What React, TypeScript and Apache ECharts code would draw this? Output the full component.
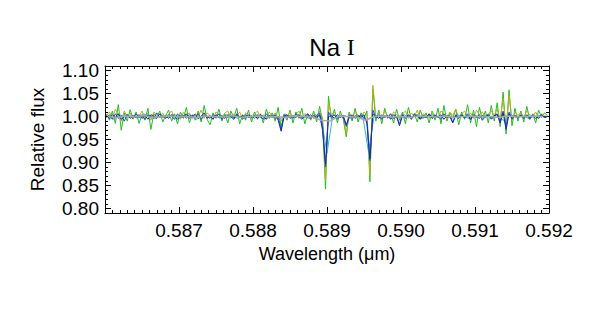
import React, { useEffect, useRef } from "react";
import * as echarts from "echarts";

// wavelength grid (µm) of the main spectra
const WAVE_START = 0.58602;
const WAVE_STEP = 0.00004;
// sparser grids of the smooth spectra
const CYAN_START = 0.58604;
const CYAN_STEP = 0.00008;
const GRAY_START = 0.58604;
const GRAY_STEP = 0.00012;

const greenFlux = [
  1.005, 0.992, 1.012, 0.985, 1.026, 0.970, 1.008, 0.990, 1.015, 0.995,
  1.010, 0.985, 1.004, 0.992, 1.018, 0.972, 1.006, 0.998, 1.012, 0.988,
  1.002, 1.014, 0.990, 1.006, 0.984, 1.010, 0.996, 1.020, 0.986, 1.004,
  0.992, 1.012, 0.988, 1.024, 0.994, 0.982, 1.008, 0.996, 1.016, 0.990,
  1.006, 0.986, 1.012, 0.998, 1.018, 0.984, 1.004, 0.992, 1.014, 0.988,
  1.010, 0.994, 1.006, 0.986, 1.016, 0.996, 1.008, 0.990, 1.020, 0.978,
  1.004, 0.992, 1.014, 0.986, 1.010, 0.996, 1.018, 0.984, 1.006, 0.992,
  1.012, 0.988, 1.022, 0.990, 0.842, 1.044, 0.992, 1.016, 0.986, 1.012,
  0.994, 0.956, 1.010, 0.990, 1.018, 0.988, 1.008, 0.996, 1.012, 0.858,
  1.060, 0.990, 1.014, 0.984, 1.018, 0.996, 1.006, 0.986, 1.016, 0.992,
  1.010, 0.984, 1.020, 0.994, 1.006, 0.988, 1.014, 0.996, 1.008, 0.986,
  1.012, 0.992, 1.018, 0.984, 1.024, 0.990, 1.008, 0.996, 1.016, 0.982,
  1.010, 0.994, 1.026, 0.986, 1.014, 0.978, 1.020, 0.992, 1.012, 0.986,
  1.024, 0.990, 1.030, 0.978, 1.053, 0.962, 1.058, 0.980, 1.018, 0.990,
  1.012, 0.988, 1.022, 0.994, 1.006, 0.986, 1.014, 0.998, 1.008, 1.002,
];

const oliveFlux = [
  1.002, 1.010, 0.996, 1.016, 1.004, 0.990, 1.012, 1.000, 1.008, 0.994,
  1.006, 1.000, 1.012, 0.996, 1.008, 0.992, 1.010, 1.002, 0.998, 1.008,
  0.996, 1.006, 1.012, 0.998, 1.004, 0.994, 1.010, 1.002, 1.008, 0.996,
  1.006, 1.000, 1.014, 0.996, 1.008, 1.002, 0.994, 1.010, 1.004, 0.998,
  1.008, 1.012, 0.996, 1.006, 1.000, 1.010, 0.994, 1.008, 1.002, 0.996,
  1.006, 1.012, 0.998, 1.004, 0.994, 1.010, 1.000, 1.008, 0.996, 0.990,
  1.006, 1.000, 1.010, 0.996, 1.004, 1.012, 0.998, 1.006, 1.002, 0.994,
  1.008, 1.000, 1.012, 0.998, 0.860, 1.030, 1.004, 1.010, 0.996, 1.006,
  1.000, 0.962, 1.008, 0.996, 1.012, 1.002, 0.998, 1.010, 1.004, 0.872,
  1.068, 1.000, 1.008, 0.994, 1.012, 1.002, 0.996, 1.010, 1.004, 0.998,
  1.006, 1.012, 0.996, 1.008, 1.000, 1.014, 0.994, 1.006, 1.002, 0.996,
  1.010, 1.004, 0.998, 1.012, 1.006, 0.994, 1.010, 1.002, 1.016, 0.998,
  1.006, 1.012, 1.000, 1.008, 0.996, 1.014, 1.004, 1.010, 0.998, 1.006,
  1.012, 1.002, 1.016, 0.994, 1.040, 0.976, 1.046, 0.992, 1.010, 1.002,
  1.008, 0.998, 1.012, 1.004, 1.000, 1.010, 0.996, 1.006, 1.002, 1.000,
];

const blueFlux = [
  0.998, 1.004, 0.994, 1.006, 0.996, 1.002, 0.990, 1.004, 1.000, 0.996,
  1.006, 0.998, 1.002, 0.994, 1.004, 1.000, 0.996, 1.008, 0.998, 1.002,
  0.996, 1.004, 1.000, 0.994, 1.006, 0.998, 1.002, 0.996, 1.004, 1.000,
  0.998, 1.006, 0.994, 1.002, 1.000, 0.996, 1.004, 0.998, 1.006, 0.994,
  1.002, 0.998, 1.004, 0.996, 1.002, 1.000, 0.994, 1.004, 0.998, 1.002,
  0.996, 1.004, 1.000, 0.994, 1.006, 0.998, 1.002, 0.996, 1.000, 0.972,
  1.004, 0.998, 1.002, 0.996, 1.006, 1.000, 0.994, 1.002, 0.998, 1.004,
  0.996, 1.002, 1.008, 0.980, 0.890, 1.010, 0.998, 1.004, 0.994, 1.002,
  0.998, 0.978, 1.004, 0.996, 1.002, 0.998, 1.004, 0.996, 0.990, 0.904,
  1.014, 0.998, 1.004, 0.994, 1.002, 0.998, 1.006, 0.996, 1.000, 0.984,
  1.004, 0.998, 1.002, 0.994, 1.006, 1.000, 0.996, 1.002, 0.998, 1.004,
  0.996, 1.002, 1.000, 0.994, 1.006, 0.998, 1.002, 0.988, 1.004, 0.998,
  1.002, 0.996, 1.006, 0.994, 1.002, 0.998, 1.004, 0.992, 1.000, 1.004,
  0.994, 1.002, 1.006, 0.990, 1.012, 0.978, 1.010, 0.994, 1.002, 0.996,
  1.004, 0.998, 1.002, 0.994, 1.004, 1.000, 0.996, 1.002, 0.998, 1.000,
];

const navyFlux = [
  1.002, 0.996, 1.004, 0.998, 1.006, 0.994, 1.000, 1.004, 0.996, 1.002,
  0.998, 1.004, 0.996, 1.002, 0.994, 1.004, 1.000, 0.996, 1.006, 0.998,
  1.002, 0.996, 1.004, 1.000, 0.994, 1.002, 0.998, 1.006, 0.996, 1.002,
  1.004, 0.996, 1.000, 1.008, 0.996, 1.002, 0.994, 1.004, 0.998, 1.002,
  0.996, 1.004, 1.000, 0.994, 1.006, 0.998, 1.002, 0.996, 1.004, 0.998,
  1.002, 0.996, 1.004, 1.000, 0.994, 1.002, 0.998, 1.004, 0.992, 0.968,
  1.000, 1.004, 0.996, 1.002, 0.998, 1.004, 0.996, 1.000, 1.006, 0.996,
  1.002, 0.998, 1.004, 0.970, 0.896, 1.000, 1.002, 0.996, 1.004, 0.998,
  1.002, 0.982, 0.998, 1.004, 0.996, 1.002, 0.998, 1.004, 0.984, 0.908,
  1.006, 1.000, 0.996, 1.004, 0.998, 1.002, 0.994, 1.004, 1.000, 0.980,
  1.002, 0.996, 1.004, 0.998, 1.000, 1.004, 0.994, 1.002, 0.998, 1.006,
  0.996, 1.002, 0.998, 1.004, 0.994, 1.002, 1.000, 0.986, 1.002, 0.996,
  1.004, 0.998, 1.002, 0.994, 1.004, 1.000, 0.996, 1.002, 0.998, 1.004,
  0.996, 1.002, 1.004, 0.986, 1.008, 0.972, 1.006, 0.996, 1.002, 0.998,
  1.002, 0.996, 1.004, 0.998, 1.002, 0.996, 1.000, 1.004, 0.998, 1.000,
];

const cyanFlux = [
  1.000, 0.994, 1.004, 0.998, 1.002, 0.996, 1.006, 1.000, 0.996, 1.002,
  0.998, 1.004, 0.996, 1.002, 1.000, 0.994, 1.004, 0.998, 1.002, 0.996,
  1.004, 1.000, 0.996, 1.002, 0.998, 1.004, 0.996, 1.000, 1.002, 0.994,
  1.004, 0.998, 1.002, 1.000, 0.996, 1.004, 0.998, 0.920, 1.004, 0.998,
  1.002, 0.996, 1.000, 1.004, 0.924, 1.004, 0.998, 1.002, 0.996, 1.000,
  1.004, 0.998, 1.002, 0.996, 1.000, 1.004, 0.998, 1.002, 0.996, 1.004,
  1.000, 0.996, 1.002, 0.998, 1.004, 0.996, 1.000, 0.990, 1.004, 0.998,
  1.002, 0.996, 1.000, 1.002, 0.998,
];

const grayFlux = [
  1.000, 0.998, 1.001, 0.999, 1.002, 0.998, 1.000, 1.001, 0.999, 1.000,
  0.998, 1.001, 1.000, 0.999, 1.002, 0.998, 1.000, 1.001, 0.999, 1.000,
  0.998, 1.001, 1.000, 0.999, 0.992, 0.990, 1.001, 1.000, 0.999, 0.992,
  1.000, 1.001, 0.999, 1.000, 0.998, 1.001, 1.000, 0.999, 1.001, 0.998,
  1.000, 1.001, 0.999, 1.000, 0.998, 1.001, 0.999, 1.000, 1.001, 1.000,
];

const xTicks = [0.586, 0.587, 0.588, 0.589, 0.59, 0.591, 0.592];
const yMajorTicks = [0.8, 0.85, 0.9, 0.95, 1.0, 1.05, 1.1];
const X_MIN = 0.586;
const X_MAX = 0.592;
const Y_MIN = 0.79;
const Y_MAX = 1.11;

const toPairs = (start: number, step: number, vals: number[]) =>
  vals.map((v, i) => [+(start + step * i).toFixed(6), v]);

const FONT = "'Liberation Sans', Arial, sans-serif";

export default function App() {
  const ref = useRef<HTMLDivElement>(null);
  useEffect(() => {
    document.body.style.margin = "0";
    const chart = echarts.init(ref.current!, null, { renderer: "svg" });
    const lineSeries = (name: string, color: string, data: number[][], width = 1) => ({
      name,
      type: "line",
      data,
      showSymbol: false,
      symbol: "none",
      lineStyle: { color, width },
      xAxisIndex: 0,
      yAxisIndex: 0,
      z: 2,
    });
    const yBase = {
      type: "value",
      min: Y_MIN,
      max: Y_MAX,
      splitLine: { show: false },
    };
    chart.setOption({
      animation: false,
      backgroundColor: "#ffffff",
      title: {
        text: "{a|Na }{b|I}",
        left: 327,
        top: 30,
        textAlign: "center",
        textStyle: {
          fontWeight: "normal",
          rich: {
            a: { fontFamily: FONT, fontSize: 24, fontWeight: "normal", color: "#000" },
            b: {
              fontFamily: "'Liberation Serif', 'DejaVu Serif', serif",
              fontSize: 24,
              fontWeight: "normal",
              color: "#000",
            },
          },
        },
      },
      grid: { left: 105, right: 42, top: 66, bottom: 101 },
      xAxis: [
        {
          type: "value",
          position: "bottom",
          min: X_MIN,
          max: X_MAX,
          interval: 0.001,
          name: "Wavelength (\u03bcm)",
          nameLocation: "middle",
          nameGap: 32,
          nameTextStyle: { fontFamily: FONT, fontSize: 18, color: "#000" },
          axisLine: { show: true, lineStyle: { color: "#000", width: 1 } },
          axisTick: { show: true, inside: true, length: 6, lineStyle: { color: "#000" } },
          minorTick: { show: true, splitNumber: 10, length: 3, lineStyle: { color: "#000" } },
          axisLabel: {
            fontFamily: FONT,
            fontSize: 19,
            color: "#000",
            margin: 8,
            formatter: (v: number) => (Math.abs(v - xTicks[0]) < 1e-7 ? "" : v.toFixed(3)),
          },
          splitLine: { show: false },
        },
        {
          type: "value",
          position: "top",
          min: X_MIN,
          max: X_MAX,
          interval: 0.001,
          axisLine: { show: true, lineStyle: { color: "#000", width: 1 } },
          axisTick: { show: true, inside: true, length: 6, lineStyle: { color: "#000" } },
          minorTick: { show: true, splitNumber: 10, length: 3, lineStyle: { color: "#000" } },
          axisLabel: { show: false },
          splitLine: { show: false },
        },
      ],
      yAxis: [
        {
          ...yBase,
          position: "left",
          name: "Relative flux",
          nameLocation: "middle",
          nameGap: 58,
          nameTextStyle: { fontFamily: FONT, fontSize: 19, color: "#000" },
          axisLine: { show: true, lineStyle: { color: "#000", width: 1 } },
          axisTick: { show: true, inside: true, length: 6, customValues: yMajorTicks, lineStyle: { color: "#000" } },
          axisLabel: {
            fontFamily: FONT,
            fontSize: 19,
            color: "#000",
            margin: 6,
            customValues: yMajorTicks,
            formatter: (v: number) => v.toFixed(2),
          },
        },
        {
          ...yBase,
          position: "left",
          interval: 0.01,
          axisLine: { show: false },
          axisTick: { show: true, inside: true, length: 3, lineStyle: { color: "#000" } },
          axisLabel: { show: false },
        },
        {
          ...yBase,
          position: "right",
          axisLine: { show: true, lineStyle: { color: "#000", width: 1 } },
          axisTick: { show: true, inside: true, length: 6, customValues: yMajorTicks, lineStyle: { color: "#000" } },
          axisLabel: { show: false, customValues: yMajorTicks },
        },
        {
          ...yBase,
          position: "right",
          interval: 0.01,
          axisLine: { show: false },
          axisTick: { show: true, inside: true, length: 3, lineStyle: { color: "#000" } },
          axisLabel: { show: false },
        },
      ],
      series: [
        lineSeries("green", "#1fbf1f", toPairs(WAVE_START, WAVE_STEP, greenFlux)),
        lineSeries("olive", "#b4b01e", toPairs(WAVE_START, WAVE_STEP, oliveFlux)),
        lineSeries("cyan", "#35b0e6", toPairs(CYAN_START, CYAN_STEP, cyanFlux)),
        lineSeries("blue", "#2250e0", toPairs(WAVE_START, WAVE_STEP, blueFlux)),
        lineSeries("navy", "#1c2c9c", toPairs(WAVE_START, WAVE_STEP, navyFlux)),
        lineSeries("gray", "#a8a8a8", toPairs(GRAY_START, GRAY_STEP, grayFlux), 1.5),
      ],
    });
    return () => chart.dispose();
  }, []);
  return <div ref={ref} style={{ width: 591, height: 314 }} />;
}
